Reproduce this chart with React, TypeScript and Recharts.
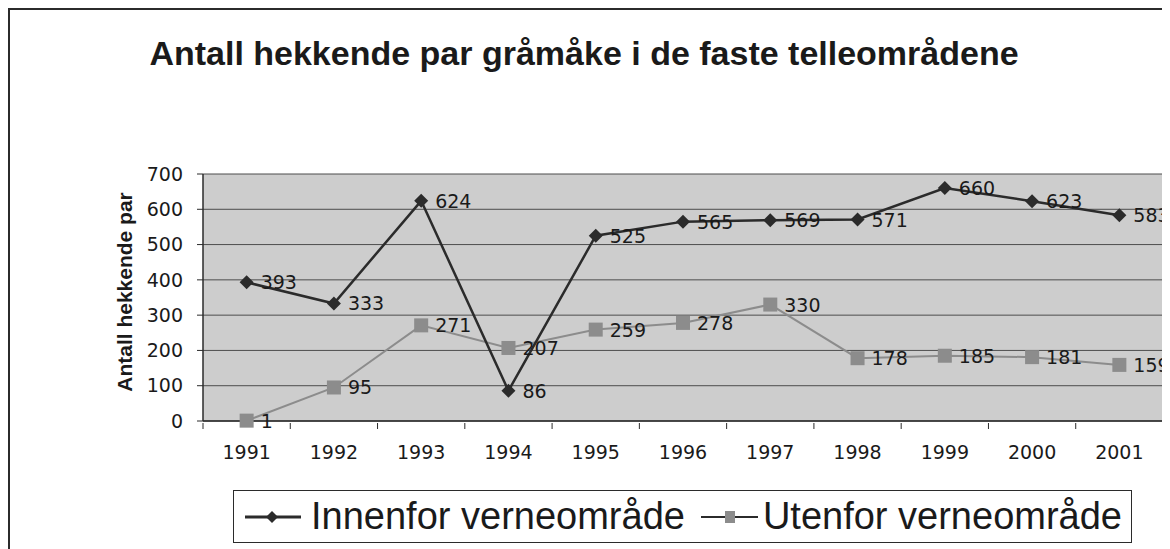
import React from 'react';
import { LineChart, Line, XAxis, YAxis, CartesianGrid, Legend, LabelList } from 'recharts';

const years = ['1991', '1992', '1993', '1994', '1995', '1996', '1997', '1998', '1999', '2000', '2001'];
const innenfor = [393, 333, 624, 86, 525, 565, 569, 571, 660, 623, 583];
const utenfor = [1, 95, 271, 207, 259, 278, 330, 178, 185, 181, 159];
const yTicks = [0, 100, 200, 300, 400, 500, 600, 700];

const data = years.map((year, i) => ({ year, innenfor: innenfor[i], utenfor: utenfor[i] }));

const FONT = '"Liberation Sans", Arial, Helvetica, sans-serif';
const LABEL_FONT = '"DejaVu Sans", "Liberation Sans", Arial, sans-serif';
const DARK = '#2b2b2b';
const GREY = '#8c8c8c';

const CHART_W = 1160;
const CHART_H = 539;
const Y_AXIS_W = 193;
const X_AXIS_H = 30;
const MARGIN = { top: 164, right: 7, left: 0, bottom: 128 - X_AXIS_H };
const PLOT_W = CHART_W - MARGIN.left - MARGIN.right - Y_AXIS_W;
const BAND = PLOT_W / years.length;

const Diamond = (props: any) => {
  const { cx, cy } = props;
  if (cx == null || cy == null) return null;
  const s = 7;
  return <path d={`M${cx},${cy - s} L${cx + s},${cy} L${cx},${cy + s} L${cx - s},${cy} Z`} fill={DARK} />;
};

const Square = (props: any) => {
  const { cx, cy } = props;
  if (cx == null || cy == null) return null;
  const s = 7;
  return <rect x={cx - s} y={cy - s} width={s * 2} height={s * 2} fill={GREY} />;
};

const ValueLabel = (props: any) => {
  const { x, y, value } = props;
  return (
    <text x={x + 14} y={y + 7} fontSize={19} fontFamily={LABEL_FONT} fill="#1a1a1a">
      {value}
    </text>
  );
};

const XTick = (props: any) => {
  const { x, y, payload } = props;
  return (
    <g>
      <line x1={x - BAND / 2} x2={x - BAND / 2} y1={y} y2={y + 6} stroke={DARK} strokeWidth={1} />
      <text x={x} y={y + 36} textAnchor="middle" fontSize={19} fontFamily={LABEL_FONT} fill="#1a1a1a">
        {payload.value}
      </text>
    </g>
  );
};

const YTitle = () => (
  <text
    x={114}
    y={MARGIN.top + 118}
    transform={`rotate(-90, 114, ${MARGIN.top + 118})`}
    textAnchor="middle"
    dominantBaseline="central"
    fontSize={21}
    fontWeight="bold"
    fontFamily={FONT}
    fill="#1a1a1a"
  >
    Antall hekkende par
  </text>
);

const LegendBox = () => (
  <div
    style={{
      width: 899,
      height: 53,
      border: `1px solid ${DARK}`,
      display: 'flex',
      alignItems: 'center',
      fontFamily: FONT,
      fontSize: 38,
      color: '#1a1a1a',
      background: '#fff',
      boxSizing: 'border-box',
      paddingLeft: 11,
      whiteSpace: 'nowrap',
    }}
  >
    <svg width={56} height={20} style={{ marginRight: 10 }}>
      <line x1={0} x2={56} y1={10} y2={10} stroke={DARK} strokeWidth={3} />
      <path d="M27,4 L33,10 L27,16 L21,10 Z" fill={DARK} />
    </svg>
    <span>Innenfor verneområde</span>
    <svg width={57} height={20} style={{ marginLeft: 16, marginRight: 5 }}>
      <line x1={0} x2={57} y1={10} y2={10} stroke={DARK} strokeWidth={2} />
      <rect x={24} y={4} width={10} height={12} fill={GREY} />
    </svg>
    <span>Utenfor verneområde</span>
  </div>
);

export default function App() {
  return (
    <div
      style={{
        position: 'relative',
        width: CHART_W,
        height: CHART_H,
        borderLeft: `2px solid ${DARK}`,
        borderTop: `2px solid ${DARK}`,
        background: '#fff',
      }}
    >
      <div
        style={{
          position: 'absolute',
          left: 0,
          top: 26,
          width: 1148,
          textAlign: 'center',
          fontFamily: FONT,
          fontWeight: 'bold',
          fontSize: 34,
          lineHeight: 1,
          color: '#1a1a1a',
        }}
      >
        Antall hekkende par gråmåke i de faste telleområdene
      </div>
      <LineChart width={CHART_W} height={CHART_H} data={data} margin={MARGIN}>
        <CartesianGrid
          stroke="#4d4d4d"
          strokeWidth={1}
          fill="#cdcdcd"
          fillOpacity={1}
          verticalCoordinatesGenerator={({ offset }: any) => [offset.left + offset.width]}
        />
        <XAxis
          dataKey="year"
          height={X_AXIS_H}
          padding={{ left: BAND / 2, right: BAND / 2 }}
          axisLine={{ stroke: DARK, strokeWidth: 1.5 }}
          tickLine={false}
          tickSize={0}
          tick={<XTick />}
          interval={0}
        />
        <YAxis
          width={Y_AXIS_W}
          domain={[0, 700]}
          ticks={yTicks}
          interval={0}
          axisLine={{ stroke: DARK, strokeWidth: 1.5 }}
          tickLine={{ stroke: DARK }}
          tickSize={6}
          tickMargin={14}
          tick={{ fontSize: 19, fontFamily: LABEL_FONT, fill: '#1a1a1a' }}
          label={<YTitle />}
        />
        <Line
          dataKey="utenfor"
          stroke={GREY}
          strokeWidth={2}
          dot={<Square />}
          isAnimationActive={false}
          name="Utenfor verneområde"
        >
          <LabelList dataKey="utenfor" content={<ValueLabel />} />
        </Line>
        <Line
          dataKey="innenfor"
          stroke={DARK}
          strokeWidth={2.5}
          dot={<Diamond />}
          isAnimationActive={false}
          name="Innenfor verneområde"
        >
          <LabelList dataKey="innenfor" content={<ValueLabel />} />
        </Line>
        <Legend
          verticalAlign="middle"
          align="center"
          content={<LegendBox />}
          wrapperStyle={{ left: 223, top: 480, width: 'auto' }}
        />
      </LineChart>
    </div>
  );
}
